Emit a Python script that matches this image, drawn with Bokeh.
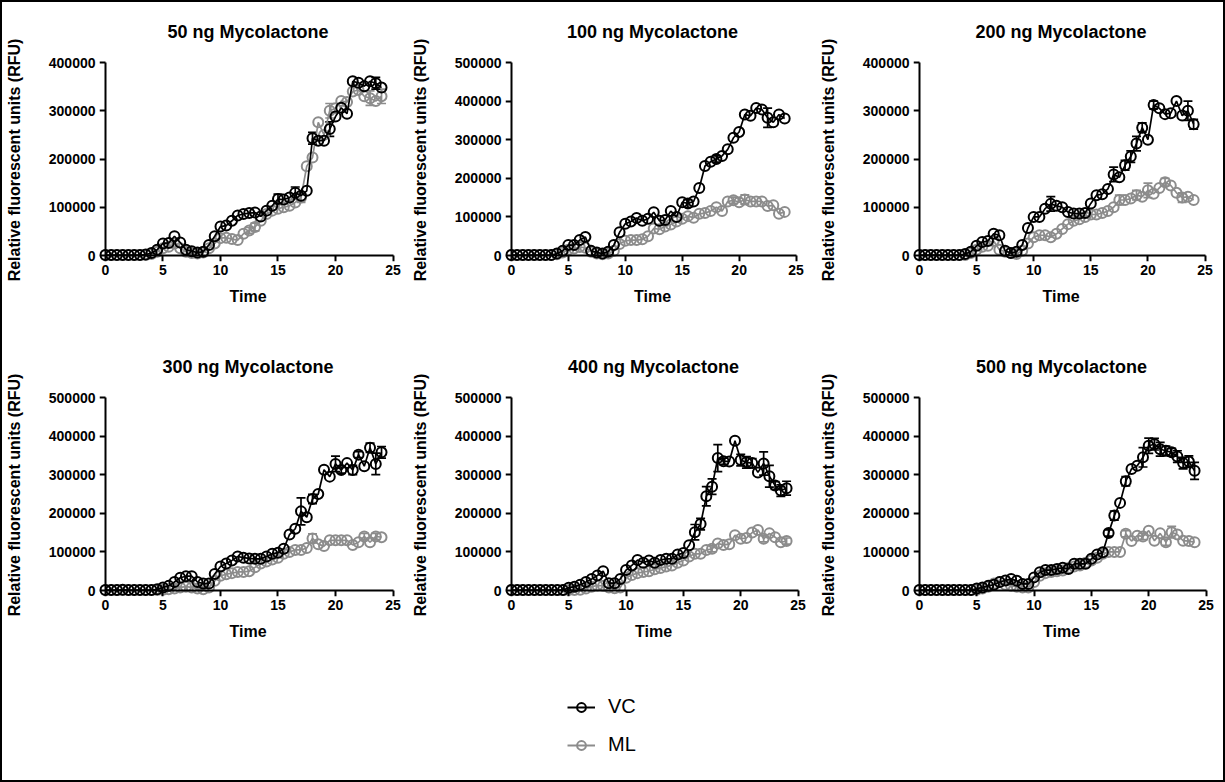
from bokeh.plotting import figure
from bokeh.layouts import column, row
from bokeh.models import (Range1d, FixedTicker, Whisker, TeeHead, ColumnDataSource,
                          Legend, LegendItem, BasicTickFormatter, LinearAxis)
from bokeh.embed import file_html
from bokeh.resources import INLINE

FONT = "Liberation Sans"
VC_COLOR = "#000000"
ML_COLOR = "#8c8c8c"

# sampling times (h)
hours = [0, 0.5, 1, 1.5, 2, 2.5, 3, 3.5, 4, 4.5,
         5, 5.5, 6, 6.5, 7, 7.5, 8, 8.5, 9, 9.5,
         10, 10.5, 11, 11.5, 12, 12.5, 13, 13.5, 14, 14.5,
         15, 15.5, 16, 16.5, 17, 17.5, 18, 18.5, 19, 19.5,
         20, 20.5, 21, 21.5, 22, 22.5, 23, 23.5, 24]

titles = ["50 ng Mycolactone", "100 ng Mycolactone", "200 ng Mycolactone",
          "300 ng Mycolactone", "400 ng Mycolactone", "500 ng Mycolactone"]
y_max = [400000, 500000, 400000, 500000, 500000, 500000]
x_ticks = [0, 5, 10, 15, 20, 25]

# mean RFU, VC (vehicle control)
vc_50 = [1000, 1000, 1000, 1000, 1000, 1000, 1000, 2000, 5000, 12000,
         25000, 26000, 40000, 27000, 12000, 9000, 6000, 8000, 22000, 40000,
         60000, 62000, 72000, 83000, 86000, 88000, 89000, 81000, 93000, 103000,
         117000, 116000, 120000, 130000, 124000, 134000, 243000, 238000, 238000, 262000,
         288000, 306000, 294000, 361000, 358000, 351000, 361000, 357000, 348000]
vc_100 = [1000, 1000, 1000, 1000, 1000, 1000, 1000, 1000, 5000, 12000,
          27000, 27000, 40000, 48000, 12000, 8000, 5000, 10000, 27000, 60000,
          82000, 88000, 97000, 90000, 95000, 112000, 90000, 92000, 115000, 100000,
          138000, 135000, 140000, 175000, 232000, 243000, 250000, 258000, 275000, 305000,
          320000, 365000, 362000, 382000, 378000, 357000, 345000, 365000, 355000]
vc_200 = [1000, 1000, 1000, 1000, 1000, 1000, 1000, 1000, 3000, 8000,
          20000, 28000, 30000, 45000, 42000, 10000, 5000, 8000, 22000, 57000,
          80000, 80000, 97000, 107000, 103000, 100000, 90000, 87000, 87000, 88000,
          108000, 125000, 127000, 138000, 168000, 162000, 187000, 205000, 232000, 265000,
          240000, 312000, 305000, 293000, 295000, 320000, 290000, 300000, 272000]
vc_300 = [1000, 1000, 1000, 2000, 1000, 1000, 1000, 1000, 1000, 3000,
          8000, 12000, 22000, 33000, 37000, 37000, 22000, 18000, 18000, 43000,
          62000, 70000, 78000, 88000, 85000, 83000, 82000, 82000, 88000, 95000,
          98000, 108000, 145000, 160000, 205000, 190000, 237000, 250000, 313000, 295000,
          328000, 312000, 330000, 312000, 352000, 322000, 370000, 328000, 358000]
vc_400 = [1000, 1000, 1000, 1000, 1000, 1000, 1000, 1000, 1000, 1000,
          7000, 10000, 15000, 22000, 30000, 39000, 50000, 19000, 19000, 30000,
          53000, 65000, 79000, 72000, 78000, 72000, 79000, 82000, 82000, 93000,
          97000, 117000, 151000, 172000, 244000, 269000, 343000, 335000, 334000, 388000,
          338000, 332000, 330000, 306000, 329000, 296000, 272000, 259000, 265000]
vc_500 = [1000, 1000, 1000, 1000, 1000, 1000, 1000, 1000, 1000, 1000,
          5000, 8000, 12000, 15000, 22000, 26000, 30000, 25000, 17000, 17000,
          34000, 47000, 53000, 53000, 56000, 59000, 56000, 69000, 69000, 69000,
          82000, 93000, 99000, 149000, 194000, 227000, 283000, 315000, 323000, 345000,
          375000, 379000, 366000, 362000, 358000, 347000, 330000, 334000, 310000]

# mean RFU, ML (mycolactone)
ml_50 = [1000, 1000, 1000, 1000, 1000, 1000, 1000, 1000, 3000, 8000,
         15000, 18000, 25000, 15000, 8000, 5000, 4000, 6000, 15000, 25000,
         36000, 37000, 34000, 32000, 45000, 52000, 59000, 72000, 86000, 93000,
         97000, 100000, 103000, 110000, 120000, 185000, 203000, 276000, 250000, 300000,
         305000, 320000, 318000, 340000, 343000, 330000, 326000, 320000, 330000]
ml_100 = [1000, 1000, 1000, 1000, 1000, 1000, 1000, 1000, 3000, 8000,
          15000, 18000, 22000, 20000, 10000, 5000, 3000, 5000, 12000, 30000,
          38000, 40000, 40000, 42000, 50000, 70000, 68000, 75000, 80000, 88000,
          95000, 102000, 98000, 108000, 110000, 115000, 125000, 115000, 140000, 143000,
          138000, 145000, 140000, 140000, 140000, 128000, 130000, 108000, 113000]
ml_200 = [1000, 1000, 1000, 1000, 1000, 1000, 1000, 1000, 1000, 5000,
          12000, 18000, 20000, 30000, 12000, 8000, 5000, 3000, 10000, 25000,
          38000, 42000, 42000, 38000, 45000, 55000, 65000, 72000, 75000, 80000,
          85000, 85000, 88000, 92000, 100000, 115000, 115000, 118000, 125000, 122000,
          135000, 128000, 140000, 152000, 145000, 130000, 120000, 122000, 115000]
ml_300 = [1000, 1000, 1000, 1000, 1000, 1000, 1000, 1000, 1000, 1000,
          2000, 3000, 5000, 8000, 10000, 8000, 5000, 3000, 8000, 25000,
          38000, 42000, 45000, 48000, 48000, 50000, 60000, 70000, 75000, 80000,
          85000, 95000, 100000, 105000, 105000, 110000, 135000, 120000, 115000, 130000,
          130000, 130000, 130000, 118000, 125000, 140000, 125000, 140000, 138000]
ml_400 = [1000, 1000, 1000, 1000, 1000, 1000, 1000, 1000, 1000, 1000,
          1000, 1000, 2000, 5000, 10000, 13000, 12000, 8000, 6000, 8000,
          33000, 40000, 45000, 48000, 50000, 55000, 58000, 62000, 65000, 72000,
          78000, 88000, 95000, 95000, 105000, 108000, 122000, 118000, 120000, 143000,
          134000, 136000, 150000, 157000, 134000, 148000, 138000, 125000, 128000]
ml_500 = [1000, 1000, 1000, 1000, 1000, 1000, 1000, 1000, 1000, 1000,
          2000, 5000, 10000, 18000, 22000, 15000, 12000, 10000, 8000, 8000,
          22000, 38000, 45000, 48000, 50000, 52000, 58000, 62000, 65000, 72000,
          78000, 85000, 95000, 100000, 100000, 100000, 147000, 128000, 142000, 140000,
          155000, 129000, 148000, 125000, 151000, 145000, 129000, 128000, 125000]

# SEM where it exceeds the marker (hour -> RFU)
vc_sem_50 = {15: 10000, 16.5: 12000, 18: 12000, 19.5: 15000, 23.5: 12000}
vc_sem_100 = {15.5: 10000, 18: 8000, 22.5: 25000}
vc_sem_200 = {11.5: 15000, 17: 15000, 18: 10000, 18.5: 12000, 19: 15000,
              19.5: 10000, 20.5: 8000, 23.5: 20000, 24: 10000}
vc_sem_300 = {17: 35000, 18: 12000, 20: 20000, 20.5: 8000, 21.5: 12000,
              22: 8000, 23: 12000, 23.5: 28000, 24: 15000}
vc_sem_400 = {16: 20000, 16.5: 15000, 17: 25000, 17.5: 20000, 18: 35000, 18.5: 8000,
              20: 15000, 20.5: 15000, 21: 12000, 22: 30000, 22.5: 28000,
              23: 10000, 23.5: 15000, 24: 18000}
vc_sem_500 = {16.5: 8000, 17: 12000, 18: 12000, 19.5: 25000, 20: 20000, 20.5: 15000,
              21: 18000, 21.5: 12000, 22: 10000, 22.5: 15000, 23: 15000,
              23.5: 15000, 24: 22000}
ml_sem_50 = {12.5: 6000, 13: 8000, 17: 10000, 19.5: 15000, 23: 15000, 24: 15000}
ml_sem_100 = {19.5: 8000, 20.5: 12000}
ml_sem_200 = {17.5: 10000, 19: 10000, 20: 15000, 21.5: 8000, 23: 10000}
ml_sem_300 = {18: 12000, 22.5: 8000, 23.5: 8000}
ml_sem_400 = {17.5: 8000, 22: 8000, 24: 8000}
ml_sem_500 = {18: 8000, 19.5: 8000, 21.5: 8000, 22: 15000}

vc_series = [vc_50, vc_100, vc_200, vc_300, vc_400, vc_500]
ml_series = [ml_50, ml_100, ml_200, ml_300, ml_400, ml_500]
vc_sems = [vc_sem_50, vc_sem_100, vc_sem_200, vc_sem_300, vc_sem_400, vc_sem_500]
ml_sems = [ml_sem_50, ml_sem_100, ml_sem_200, ml_sem_300, ml_sem_400, ml_sem_500]

# page geometry (px)
FIG_W = [406, 408, 407]
BORDER_L = [[94, 91, 92], [94, 93, 93]]
ROW_H = 330
FRAME_W = 300
FRAME_H = 203
TOP = [56, 61]
AXIS_SPAN_PX = 193          # pixels between 0 and the top tick
PAD_BELOW, PAD_ABOVE = 6, 4
X_PX = 11.62                # pixels per hour


def add_series(p, y, sem, color):
    src = ColumnDataSource(dict(t=hours, y=y))
    et = [t for t in hours if t in sem]
    ey = [y[hours.index(t)] for t in et]
    esrc = ColumnDataSource(dict(t=et,
                                 lo=[v - sem[t] for v, t in zip(ey, et)],
                                 hi=[v + sem[t] for v, t in zip(ey, et)]))
    p.add_layout(Whisker(source=esrc, base="t", lower="lo", upper="hi",
                         line_color=color, line_width=1.7,
                         upper_head=TeeHead(size=9, line_color=color, line_width=1.7),
                         lower_head=TeeHead(size=9, line_color=color, line_width=1.7)))
    p.line("t", "y", source=src, line_color=color, line_width=1.7)
    p.scatter("t", "y", source=src, marker="circle", size=10, fill_color=None,
              line_color=color, line_width=2)


def style_text(ax):
    ax.major_label_text_font = FONT
    ax.major_label_text_font_size = "14px"
    ax.major_label_text_font_style = "bold"
    ax.major_label_text_color = "black"
    ax.axis_label_text_font = FONT
    ax.axis_label_text_font_size = "16px"
    ax.axis_label_text_font_style = "bold"
    ax.axis_label_text_color = "black"
    ax.axis_line_color = None
    ax.major_tick_line_color = None
    ax.minor_tick_line_color = None
    ax.major_tick_out = 0
    ax.major_tick_in = 0


def rule_axis(ticks, bounds):
    # axis line with ticks, pinned at the origin of the other dimension
    return LinearAxis(ticker=FixedTicker(ticks=ticks), bounds=bounds, fixed_location=0,
                      axis_line_width=2, axis_line_color="black",
                      major_tick_line_width=2, major_tick_line_color="black",
                      major_tick_in=6, major_tick_out=0, minor_tick_line_color=None,
                      major_label_text_font_size="0px", major_label_standoff=0,
                      major_label_text_color=None)


def make_panel(i):
    r, c = divmod(i, 3)
    ymax = y_max[i]
    w = FIG_W[c]
    left = BORDER_L[r][c]
    top = TOP[r]
    x0 = -PAD_BELOW / X_PX
    y_ticks = list(range(0, ymax + 1, 100000))
    p = figure(width=w, height=ROW_H,
               x_range=Range1d(x0, x0 + FRAME_W / X_PX),
               y_range=Range1d(-ymax * PAD_BELOW / AXIS_SPAN_PX,
                               ymax * (1 + PAD_ABOVE / AXIS_SPAN_PX)),
               output_backend="svg", toolbar_location=None,
               min_border_left=left, min_border_right=w - left - FRAME_W,
               min_border_top=top, min_border_bottom=ROW_H - top - FRAME_H)
    p.outline_line_color = None
    p.grid.visible = False
    p.background_fill_color = "white"
    p.border_fill_color = "white"

    p.title.text = titles[i]
    p.title.align = "center"
    p.title.text_font = FONT
    p.title.text_font_size = "18px"
    p.title.text_font_style = "bold"
    p.title.text_color = "black"
    p.title.standoff = 34

    # label-only axes on the frame edges
    xa = p.xaxis[0]
    style_text(xa)
    xa.ticker = FixedTicker(ticks=x_ticks)
    xa.axis_label = "Time"
    xa.major_label_standoff = 3
    xa.axis_label_standoff = 10

    ya = p.yaxis[0]
    style_text(ya)
    ya.ticker = FixedTicker(ticks=y_ticks)
    ya.formatter = BasicTickFormatter(use_scientific=False)
    ya.axis_label = "Relative fluorescent units (RFU)"
    ya.major_label_standoff = 4
    ya.axis_label_standoff = 23

    # axis lines through the origin
    p.add_layout(rule_axis(x_ticks, (0, 25)), "above")
    p.add_layout(rule_axis(y_ticks, (0, ymax)), "right")

    add_series(p, ml_series[i], ml_sems[i], ML_COLOR)
    add_series(p, vc_series[i], vc_sems[i], VC_COLOR)
    return p


panels = [make_panel(i) for i in range(6)]

# legend strip
nan = float("nan")
lg = figure(width=sum(FIG_W), height=118, output_backend="svg", toolbar_location=None,
            x_range=Range1d(0, 1), y_range=Range1d(0, 1), min_border=0,
            x_axis_location=None, y_axis_location=None)
lg.outline_line_color = None
lg.grid.visible = False
vc_l = lg.line(x=[nan], y=[nan], line_color=VC_COLOR, line_width=2)
vc_m = lg.scatter(x=[nan], y=[nan], marker="circle", size=11, fill_color=None,
                  line_color=VC_COLOR, line_width=2)
ml_l = lg.line(x=[nan], y=[nan], line_color=ML_COLOR, line_width=2)
ml_m = lg.scatter(x=[nan], y=[nan], marker="circle", size=11, fill_color=None,
                  line_color=ML_COLOR, line_width=2)
legend = Legend(items=[LegendItem(label="VC", renderers=[vc_l, vc_m]),
                       LegendItem(label="ML", renderers=[ml_l, ml_m])],
                location=(565, 24), orientation="vertical",
                glyph_width=28, glyph_height=22, label_height=22,
                label_standoff=13, spacing=15, padding=0, margin=0,
                border_line_color=None, background_fill_alpha=0,
                label_text_font=FONT, label_text_font_size="20px",
                label_text_color="black")
lg.add_layout(legend)

page = column(row(*panels[:3]), row(*panels[3:]), lg,
              styles={"border": "2px solid black"})

open("out.html", "w").write(file_html(page, INLINE))
